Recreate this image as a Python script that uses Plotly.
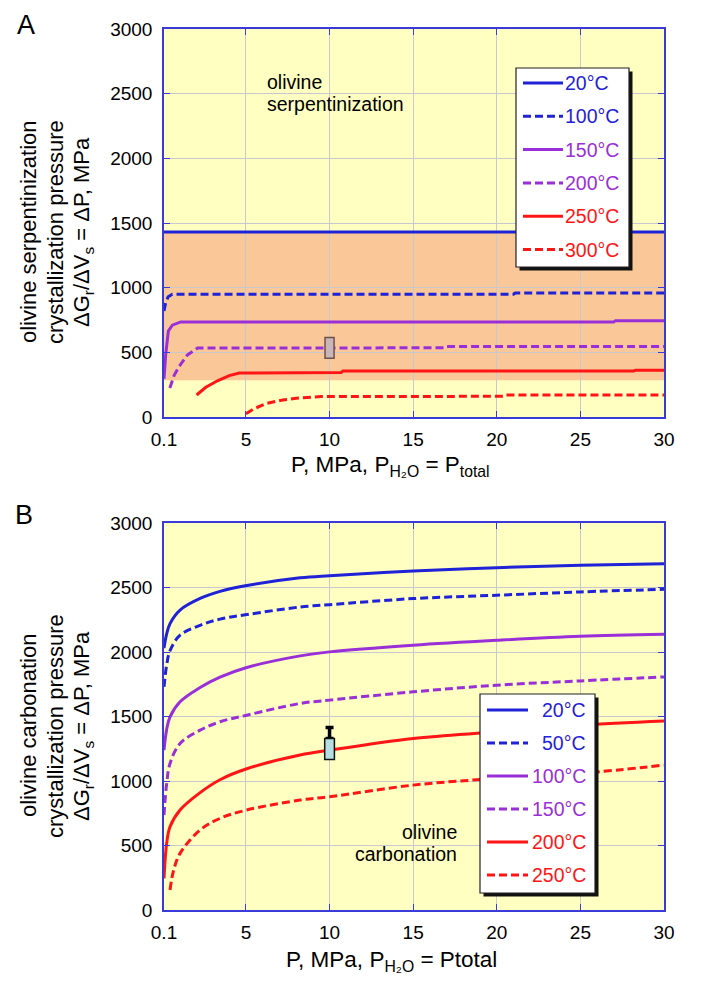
import plotly.graph_objects as go

# page body has an 8px margin: the figure is sized to end at the window edge
OFF = 8
W, H = 702 - OFF, 981 - OFF

# ---------------- Panel A data (olivine serpentinization) ----------------
A_LABELS = ["20°C", "100°C", "150°C", "200°C", "250°C", "300°C"]
A_P_20 = [0.1, 30]
A_V_20 = [1430, 1430]
A_P_100 = [0.1, 0.2, 0.35, 0.6, 21.0, 21.1, 30]
A_V_100 = [820, 885, 930, 950, 950, 958, 958]
A_P_150 = [0.1, 0.2, 0.36, 0.6, 1.1, 27.0, 27.1, 30]
A_V_150 = [295, 480, 665, 710, 735, 735, 745, 745]
A_P_200 = [0.45, 0.7, 1.0, 1.5, 2.1, 16.9, 17.0, 30]
A_V_200 = [224, 320, 390, 480, 533, 535, 545, 545]
A_P_250 = [2.05, 2.6, 3.3, 4.0, 4.6, 10.7, 10.8, 28.2, 28.3, 30]
A_V_250 = [170, 230, 280, 320, 340, 345, 356, 356, 362, 362]
A_P_300 = [5.0, 5.5, 6.25, 7.2, 8.0, 9.5, 20.4, 20.5, 30]
A_V_300 = [25, 65, 106, 131, 145, 158, 160, 170, 170]
A_BAND = [285, 1430]          # shaded range of serpentinization pressure
A_EXP_P = 10
A_EXP_RANGE = [455, 615]

# ---------------- Panel B data (olivine carbonation) ----------------
B_LABELS = ["20°C", "50°C", "100°C", "150°C", "200°C", "250°C"]
B_P = [0.1, 0.26, 0.46, 1.06, 2.26, 3.45, 5.05, 8.24, 10, 15, 20, 25, 30]
B_V_20 = [2030, 2140, 2220, 2325, 2415, 2470, 2515, 2575, 2592, 2628, 2654, 2672, 2685]
B_V_50 = [1730, 1900, 2010, 2130, 2207, 2255, 2290, 2349, 2367, 2414, 2440, 2466, 2486]
B_V_100 = [1239, 1400, 1497, 1614, 1725, 1805, 1880, 1970, 2001, 2053, 2091, 2122, 2138]
B_V_150 = [736, 981, 1136, 1291, 1394, 1459, 1510, 1601, 1627, 1691, 1743, 1776, 1807]
B_V_200 = [245, 517, 645, 775, 910, 1010, 1095, 1201, 1239, 1330, 1381, 1433, 1466]
B_P_250 = [0.46, 0.66, 1.06, 2.26, 3.45, 5.05, 8.24, 10, 15, 20, 25, 30]
B_V_250 = [155, 300, 439, 620, 710, 775, 852, 878, 968, 1020, 1059, 1123]
B_EXP_P = 10
B_EXP_RANGE = [1167, 1330]
B_EXP_ERR_TOP = 1415

X_TICKS = [0.1, 5, 10, 15, 20, 25, 30]
X_TICKTEXT = ["0.1", "5", "10", "15", "20", "25", "30"]
Y_TICKS = [0, 500, 1000, 1500, 2000, 2500, 3000]

# ---------------- styles ----------------
BLUE = "#1F22D6"
PURPLE = "#9A2FD8"
RED = "#FF1515"
COLORS = [BLUE, BLUE, PURPLE, PURPLE, RED, RED]
DASHES = ["solid", "8px,4px", "solid", "8px,4px", "solid", "8px,4px"]
AXIS_COLOR = "#3A3AD8"
GRID_COLOR = "#C8C8CE"
BG = "#FFFFC2"
BAND_COLOR = "#FAC898"
FONT = "Liberation Sans, Arial, sans-serif"


def px_x(px):
    return (px - OFF) / W


def px_y(py):
    return 1 - (py - OFF) / H


fig = go.Figure()

a_series = [(A_P_20, A_V_20), (A_P_100, A_V_100), (A_P_150, A_V_150),
            (A_P_200, A_V_200), (A_P_250, A_V_250), (A_P_300, A_V_300)]
for (px_, v), name, c, d in zip(a_series, A_LABELS, COLORS, DASHES):
    fig.add_trace(go.Scatter(x=px_, y=v, mode="lines", name=name,
                             line=dict(color=c, width=3, dash=d),
                             xaxis="x", yaxis="y", showlegend=False))

b_series = [(B_P, B_V_20), (B_P, B_V_50), (B_P, B_V_100),
            (B_P, B_V_150), (B_P, B_V_200), (B_P_250, B_V_250)]
for (px_, v), name, c, d in zip(b_series, B_LABELS, COLORS, DASHES):
    fig.add_trace(go.Scatter(x=px_, y=v, mode="lines", name=name,
                             line=dict(color=c, width=3, dash=d, shape="spline", smoothing=1.0),
                             xaxis="x2", yaxis="y2", showlegend=False))

# error bar of carbonation experiment
fig.add_trace(go.Scatter(x=[B_EXP_P], y=[B_EXP_RANGE[1]], mode="markers",
                         marker=dict(size=1, color="rgba(0,0,0,0)"),
                         error_y=dict(type="data", symmetric=False,
                                      array=[B_EXP_ERR_TOP - B_EXP_RANGE[1]], arrayminus=[0],
                                      color="black", thickness=3.5, width=4),
                         xaxis="x2", yaxis="y2", showlegend=False, hoverinfo="skip"))

shapes = []
# shaded band A
shapes.append(dict(type="rect", xref="x", yref="y", x0=X_TICKS[0], x1=X_TICKS[-1],
                   y0=A_BAND[0], y1=A_BAND[1], fillcolor=BAND_COLOR,
                   line=dict(width=0), layer="below"))
# experiment rectangles
shapes.append(dict(type="rect", xref="x", yref="y", x0=A_EXP_P - 0.27, x1=A_EXP_P + 0.27,
                   y0=A_EXP_RANGE[0], y1=A_EXP_RANGE[1], fillcolor="#C9B5BA",
                   line=dict(color="#6E5048", width=1.5), layer="above"))
shapes.append(dict(type="rect", xref="x2", yref="y2", x0=B_EXP_P - 0.29, x1=B_EXP_P + 0.29,
                   y0=B_EXP_RANGE[0], y1=B_EXP_RANGE[1], fillcolor="#B5DDE2",
                   line=dict(color="#111111", width=1.5), layer="above"))


def legend_box(left, top, right, bottom):
    shapes.append(dict(type="rect", xref="paper", yref="paper",
                       x0=px_x(left + 3.5), x1=px_x(right + 3.5),
                       y0=px_y(bottom + 3.5), y1=px_y(top + 3.5),
                       fillcolor="#111111", line=dict(width=0), layer="above"))
    shapes.append(dict(type="rect", xref="paper", yref="paper",
                       x0=px_x(left), x1=px_x(right), y0=px_y(bottom), y1=px_y(top),
                       fillcolor="white", line=dict(color="#222222", width=1.2), layer="above"))


annotations = []


def txt(x, y, text, size, xanchor="center", angle=None, color="black", yanchor="middle"):
    a = dict(xref="paper", yref="paper", x=px_x(x), y=px_y(y), text=text,
             showarrow=False, xanchor=xanchor, yanchor=yanchor,
             font=dict(family=FONT, size=size, color=color))
    if angle:
        a["textangle"] = angle
    annotations.append(a)


# Legend A
legend_box(516, 68, 629, 267)
for i, (name, c, d) in enumerate(zip(A_LABELS, COLORS, DASHES)):
    yc = 83 + i * 33.3
    shapes.append(dict(type="line", xref="paper", yref="paper", x0=px_x(523), x1=px_x(563),
                       y0=px_y(yc), y1=px_y(yc), line=dict(color=c, width=3, dash=d), layer="above"))
    txt(563, yc, name, 19.5, "left", color=c)

# Legend B
legend_box(480, 694, 595, 893)
for i, (name, c, d) in enumerate(zip(B_LABELS, COLORS, DASHES)):
    yc = 710 + i * 33.0
    shapes.append(dict(type="line", xref="paper", yref="paper", x0=px_x(487), x1=px_x(528),
                       y0=px_y(yc), y1=px_y(yc), line=dict(color=c, width=3, dash=d), layer="above"))
    txt(588, yc, name, 19.5, "right", color=c)

# panel letters
txt(26, 8, "A", 27, yanchor="top")
txt(24, 515, "B", 27)

# in-plot labels
txt(265, 82, "olivine", 19.5, "left")
txt(265, 103.5, "serpentinization", 19.5, "left")
txt(459, 832, "olivine", 19.5, "right")
txt(459, 853.5, "carbonation", 19.5, "right")

# y titles
ytitle_third = "ΔG<sub>r</sub>/ΔV<sub>s</sub> = ΔP, MPa"
for yc, first in [(232, "olivine serpentinization"), (726, "olivine carbonation")]:
    txt(28, yc, first, 22, angle=-90)
    txt(55, yc, "crystallization pressure", 22, angle=-90)
    txt(83, yc, ytitle_third, 22, angle=-90)

# x titles
txt(390, 466, "P, MPa, P<sub>H₂O</sub> = P<sub>total</sub>", 22.5)
txt(391, 961, "P, MPa, P<sub>H₂O</sub> = Ptotal", 22.5)

xdom = [px_x(164), px_x(664)]
axis_common = dict(showline=True, linecolor=AXIS_COLOR, linewidth=1.5, mirror="ticks",
                   ticks="inside", ticklen=6, tickwidth=1.3, tickcolor=AXIS_COLOR,
                   showgrid=True, gridcolor=GRID_COLOR, gridwidth=1, zeroline=False,
                   automargin=False,
                   tickfont=dict(family=FONT, size=19, color="black"))

xa = dict(axis_common, range=[X_TICKS[0], X_TICKS[-1]], tickmode="array",
          tickvals=X_TICKS, ticktext=X_TICKTEXT, ticklabelstandoff=4)
ya = dict(axis_common, range=[Y_TICKS[0], Y_TICKS[-1]], tickmode="array",
          tickvals=Y_TICKS, ticklabelstandoff=6)

fig.update_layout(
    width=W, height=H, autosize=False,
    margin=dict(l=0, r=0, t=0, b=0, pad=0, autoexpand=False),
    paper_bgcolor="white", plot_bgcolor=BG,
    xaxis=dict(xa, domain=xdom, anchor="y"),
    yaxis=dict(ya, domain=[px_y(417), px_y(29)], anchor="x"),
    xaxis2=dict(xa, domain=xdom, anchor="y2"),
    yaxis2=dict(ya, domain=[px_y(910), px_y(523)], anchor="x2"),
    shapes=shapes, annotations=annotations, showlegend=False,
)

fig.write_html("out.html")
